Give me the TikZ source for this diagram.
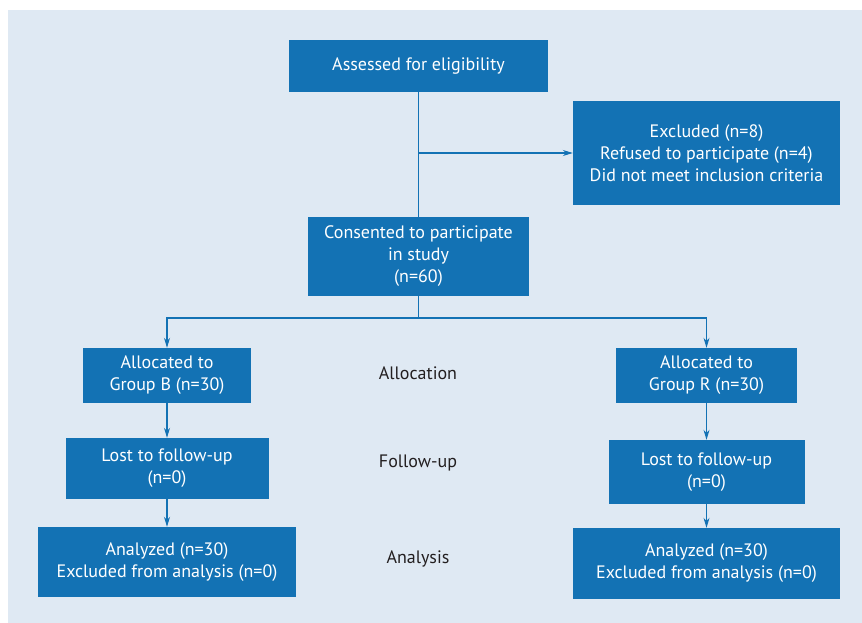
\documentclass[tikz,border=0pt]{standalone}
\usepackage{fontspec}
\setmainfont{PT Sans}
\usetikzlibrary{arrows.meta}
\definecolor{boxblue}{HTML}{1372B4}
\definecolor{bgblue}{HTML}{DFE9F3}
\definecolor{labelgray}{HTML}{231F20}
\tikzset{
  flowbox/.style 2 args={fill=boxblue, text=white, minimum width=#1, minimum height=#2,
    inner sep=0pt, align=center, font=\fontsize{18}{22}\selectfont},
  phase/.style={text=labelgray, font=\fontsize{18}{22}\selectfont},
  flowline/.style={draw=boxblue, line width=1.1pt},
  flowarrow/.style={flowline, -{Stealth[length=10pt,width=6pt]}}
}

\begin{document}
\begin{tikzpicture}[x=1pt,y=-1pt]
            \useasboundingbox (0,0) rectangle (862,623);
            \fill[bgblue] (8,10) rectangle (862,623);
            \node[flowbox={259pt}{52pt}] (assess) at (418.5,66) {Assessed for eligibility};
            \node[flowbox={267pt}{104pt}] (excl) at (706.5,153) {Excluded (n=8)\\Refused to participate (n=4)\\Did not meet inclusion criteria};
            \node[flowbox={221pt}{79pt}] (consent) at (418.5,256.5) {Consented to participate\\in study\\(n=60)};
            \node[flowbox={168pt}{55pt}] (grpB) at (167,375.5) {Allocated to\\Group B (n=30)};
            \node[flowbox={203pt}{61pt}] (lostB) at (167,468.5) {Lost to follow-up\\(n=0)};
            \node[flowbox={258pt}{70pt}] (anaB) at (167,562) {Analyzed (n=30)\\Excluded from analysis (n=0)};
            \node[flowbox={181pt}{55pt}] (grpR) at (706.5,375.5) {Allocated to\\Group R (n=30)};
            \node[flowbox={196pt}{64pt}] (lostR) at (706.5,472) {Lost to follow-up\\(n=0)};
            \node[flowbox={267pt}{71pt}] (anaR) at (706.5,563.5) {Analyzed (n=30)\\Excluded from analysis (n=0)};
            \node[phase] (alloc) at (418,373) {Allocation};
            \node[phase] (follow) at (418,463) {Follow-up};
            \node[phase] (analysis) at (418,559) {Analysis};
            \coordinate (split) at (418.5,318);
            \draw[flowline] (assess) -- (consent);
            \draw[flowarrow] (assess.south |- excl.west) -- (excl.west);
            \draw[flowline] (consent) -- (split);
            \draw[flowarrow] (split) -| (grpB.north);
            \draw[flowarrow] (split) -| (grpR.north);
            \draw[flowarrow] (grpB) -- (lostB);
            \draw[flowarrow] (lostB) -- (anaB);
            \draw[flowarrow] (grpR) -- (lostR);
            \draw[flowarrow] (lostR) -- (anaR);
        \end{tikzpicture}
\end{document}
